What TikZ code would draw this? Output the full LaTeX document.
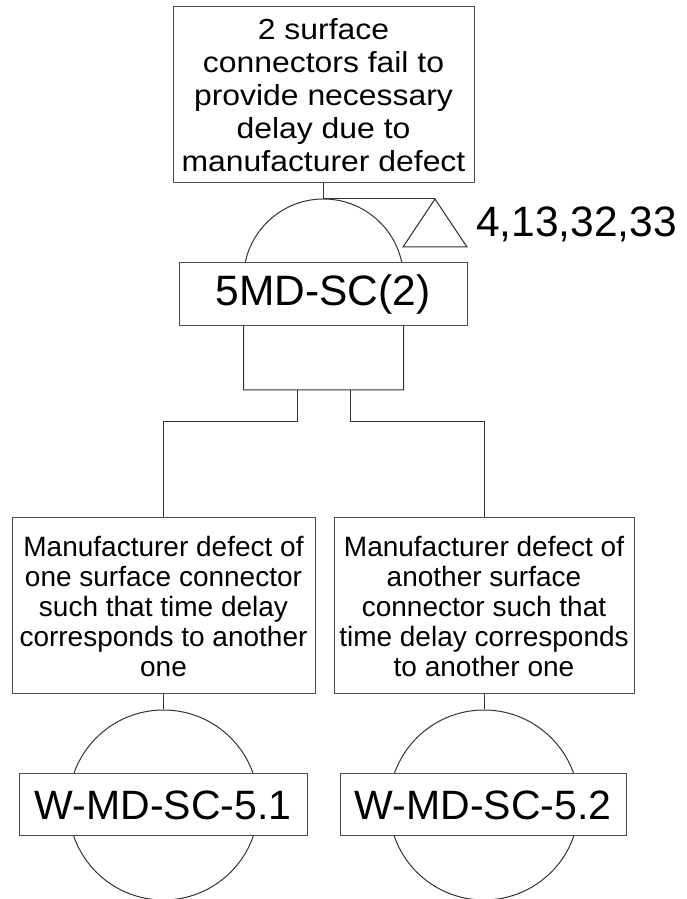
\documentclass[tikz,border=0pt]{standalone}
\usepackage{fontspec}
\setmainfont{Liberation Sans}
\newfontfamily\topfont[FakeStretch=1.1]{Liberation Sans}
\begin{document}
\begin{tikzpicture}[x=1pt,y=1pt]
\tikzset{
  edge/.style={draw=black!80, line width=1pt},
  textbox/.style={draw=black!70, fill=white, line width=1pt, inner sep=0pt, align=center},
  event/.style={circle, draw=black!80, line width=1pt, inner sep=0pt, minimum size=190pt},
  bigfont/.style={font=\fontsize{42.5}{42.5}\selectfont},
}
\useasboundingbox (0,0) rectangle (687,899);

% top event
\node[textbox, minimum width=301pt, minimum height=176pt,
      font=\topfont\fontsize{29}{33}\selectfont] (top) at (323.5,804)
  {2 surface\\connectors fail to\\provide necessary\\delay due to\\manufacturer defect};

% AND gate body
\coordinate (gtop) at (323.5,700);
\coordinate (gl) at (297,509);
\coordinate (gr) at (350,509);
\draw[edge] (243.5,509) -- (243.5,620) arc[start angle=180, end angle=0, radius=80] -- (403.5,509) -- cycle;
\node[textbox, minimum width=288pt, minimum height=63pt, bigfont] (gate) at (323,604.5) {5MD-SC(2)};

% transfer triangle
\coordinate (tri) at (435,700);
\draw[edge] (tri) -- (467,652) -- (403,652) -- cycle;
\node[anchor=base west, inner sep=0pt, bigfont] (refs) at (476,662) {4,13,32,33};

\draw[edge] (top.south) -- (gtop) -- (tri);

% intermediate events
\node[textbox, minimum width=303pt, minimum height=176pt,
      font=\fontsize{28}{30}\selectfont] (e1) at (163.5,293)
  {Manufacturer defect of\\one surface connector\\such that time delay\\corresponds to another\\one};
\node[textbox, minimum width=300pt, minimum height=176pt,
      font=\fontsize{28}{30}\selectfont] (e2) at (484,293)
  {Manufacturer defect of\\another surface\\connector such that\\time delay corresponds\\to another one};

\draw[edge] (gl) -- ++(0,-32) -| (e1.north);
\draw[edge] (gr) -- ++(0,-32) -| (e2.north);

% basic events
\node[event] (c1) at (163.5,94) {};
\node[event] (c2) at (484,94) {};
\draw[edge] (e1.south) -- (c1.north);
\draw[edge] (e2.south) -- (c2.north);
\node[textbox, minimum width=288pt, minimum height=62pt, font=\fontsize{41}{41}\selectfont] (l1) at (163,94) {W-MD-SC-5.1};
\node[textbox, minimum width=286pt, minimum height=62pt, font=\fontsize{41}{41}\selectfont] (l2) at (483,94) {W-MD-SC-5.2};
\end{tikzpicture}
\end{document}
